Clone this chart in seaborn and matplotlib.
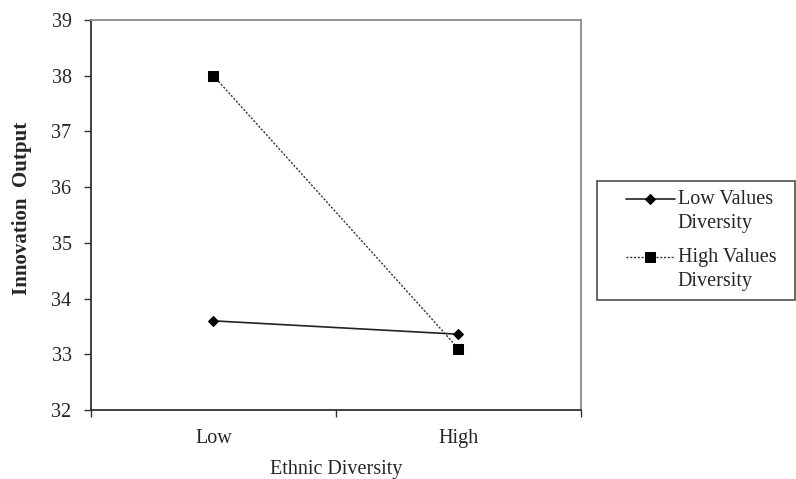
import matplotlib
matplotlib.use("Agg")
import matplotlib.pyplot as plt
import seaborn as sns
import pandas as pd
import numpy as np
from matplotlib.ticker import FixedLocator
from matplotlib.legend_handler import HandlerLine2D

categories = ["Low", "High"]
low_values = [33.6, 33.36]
high_values = [38.0, 33.1]
series_names = ["Low Values\nDiversity", "High Values\nDiversity"]
y_ticks = [32, 33, 34, 35, 36, 37, 38, 39]

sns.set_theme(style="white")
plt.rcParams['font.family'] = ['Liberation Serif', 'DejaVu Serif']

FS = 14.5

fig = plt.figure(figsize=(7.96, 4.79), dpi=100)
ax = fig.add_axes([91/796, 1-410/479, (581-91)/796, (410-20)/479])

df1 = pd.DataFrame({"x": categories, "y": low_values})
df2 = pd.DataFrame({"x": categories, "y": high_values})
sns.lineplot(data=df1, x="x", y="y", ax=ax, color="#222222", linewidth=1.2,
             marker="D", markersize=5.5, markeredgecolor="black", markerfacecolor="black",
             label=series_names[0])
sns.lineplot(data=df2, x="x", y="y", ax=ax, color="#333333", linewidth=1.0,
             linestyle=(0, (1.5, 1.2)), marker="s", markersize=7.5,
             markeredgecolor="black", markerfacecolor="black", label=series_names[1])

ax.set_xlim(-0.5, 1.5)
ax.set_ylim(32, 39)
ax.set_yticks(y_ticks)
ax.set_yticklabels([str(t) for t in y_ticks], fontsize=FS)
ax.set_xticks([0, 1])
ax.set_xticklabels(categories, fontsize=FS)
ax.tick_params(axis="x", which="major", length=0, pad=14)
ax.xaxis.set_minor_locator(FixedLocator([-0.5, 0.5, 1.5]))
ax.tick_params(axis="x", which="minor", bottom=True, length=5, width=1, color="#333333", direction="out")
ax.tick_params(axis="y", left=True, length=5, width=1, color="#333333", direction="out", pad=9)

for s in ["top", "right"]:
    ax.spines[s].set_color("#8a8a8a")
    ax.spines[s].set_linewidth(1.3)
for s in ["left", "bottom"]:
    ax.spines[s].set_color("#333333")
    ax.spines[s].set_linewidth(1.3)

ax.set_xlabel("Ethnic Diversity", fontsize=FS, labelpad=8)
ax.set_ylabel("Innovation  Output", fontsize=15, fontweight="bold")
ax.yaxis.set_label_coords((32 - 91) / 490, (410 - 208) / 390)


class TopAlignedHandler(HandlerLine2D):
    def create_artists(self, legend, orig_handle, xdescent, ydescent, width, height, fontsize, trans):
        arts = super().create_artists(legend, orig_handle, xdescent, ydescent,
                                      width, height, fontsize, trans)
        xline = np.asarray(arts[0].get_xdata(), dtype=float)
        x0, x1 = xline.min(), xline.max()
        xoff = 1.0 * fontsize
        dy = 0.62 * fontsize
        for a in arts:
            x = np.asarray(a.get_xdata(), dtype=float)
            y = np.asarray(a.get_ydata(), dtype=float)
            nx = x0 + xoff + (x - x0) * (x1 - x0 - xoff) / (x1 - x0)
            a.set_data(nx, y + dy)
        return arts


handles, labels = ax.get_legend_handles_labels()
ax.get_legend().remove()
leg = fig.legend(handles, labels, loc="center left",
                 bbox_to_anchor=(597/796, 1-302/479, 198/796, 123/479),
                 mode="expand", fontsize=FS,
                 frameon=True, fancybox=False, edgecolor="#333333",
                 borderpad=0.45, labelspacing=0.75, handlelength=3.4,
                 handletextpad=0.15, borderaxespad=0,
                 handler_map={h: TopAlignedHandler() for h in handles})
for t in leg.get_texts():
    t.set_linespacing(1.35)
leg.get_frame().set_linewidth(1.3)

fig.savefig("out.png", dpi=100)
